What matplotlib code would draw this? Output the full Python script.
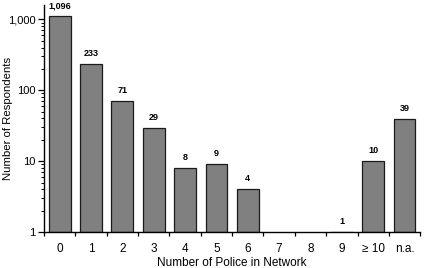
import matplotlib
matplotlib.use("Agg")
import matplotlib.pyplot as plt
import numpy as np
from matplotlib.ticker import FixedLocator, FuncFormatter, LogLocator, NullFormatter

plt.rcParams['font.family'] = ['Liberation Sans', 'DejaVu Sans']

categories = ["0", "1", "2", "3", "4", "5", "6", "7", "8", "9", "\u2265 10", "n.a."]
values = [1096, 233, 71, 29, 8, 9, 4, 0, 0, 1, 10, 39]
value_labels = ["1,096", "233", "71", "29", "8", "9", "4", "", "", "1", "10", "39"]

fig = plt.figure(figsize=(4.24, 2.68), dpi=100)
ax = fig.add_axes([0.104, 0.134, 0.887, 0.848])

x = np.arange(len(categories))
for xi, v, lab in zip(x, values, value_labels):
    if v >= 1:
        ax.bar(xi, v - 1 if v > 1 else 0.0001, bottom=1, width=0.7,
               color="#808080", edgecolor="#1a1a1a", linewidth=0.9)
    if lab:
        ax.annotate(lab, (xi, max(v, 1)), xytext=(0, 4.5), textcoords="offset points",
                    ha="center", va="bottom", fontsize=6.5, fontweight="bold")

ax.set_yscale("log")
ax.set_ylim(1, 1600)
ax.set_xlim(-0.5, len(categories) - 0.5)

ax.yaxis.set_major_locator(FixedLocator([1, 10, 100, 1000]))
ax.yaxis.set_major_formatter(FuncFormatter(lambda v, p: f"{int(v):,}"))
ax.yaxis.set_minor_locator(LogLocator(base=10, subs=np.arange(2, 10)))
ax.yaxis.set_minor_formatter(NullFormatter())

ax.set_xticks(x)
ax.set_xticklabels(categories)
ax.set_xticks(np.arange(-0.5, len(categories), 1), minor=True)
ax.tick_params(axis="x", which="major", length=0, labelsize=8.5, pad=8)
ax.tick_params(axis="x", which="minor", length=3, width=0.9, direction="out")
ax.tick_params(axis="y", which="major", length=4, width=0.9, labelsize=8, pad=2, direction="out")
ax.tick_params(axis="y", which="minor", length=2, width=0.7, direction="out")

ax.spines["top"].set_visible(False)
ax.spines["right"].set_visible(False)
ax.spines["left"].set_linewidth(1)
ax.spines["bottom"].set_linewidth(1)

ax.set_xlabel("Number of Police in Network", fontsize=8.5, labelpad=1)
ax.set_ylabel("Number of Respondents", fontsize=8.2)
ax.yaxis.set_label_coords(-0.082, 0.5)

fig.savefig("out.png", dpi=100)
